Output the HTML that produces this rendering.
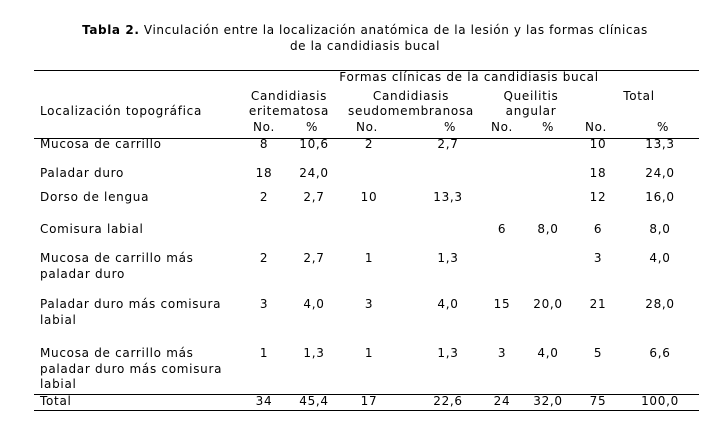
<!DOCTYPE html>
<html><head><meta charset="utf-8"><style>
html,body{margin:0;padding:0;background:#fff;}
body{width:719px;height:435px;position:relative;overflow:hidden;font-family:"DejaVu Sans","Liberation Sans",sans-serif;font-size:12px;letter-spacing:0.7px;color:#000;}
.t{position:absolute;white-space:nowrap;line-height:14px;}
.c{transform:translateX(-50%);}
.l{position:absolute;left:34px;width:665px;height:1px;background:#000;}
</style></head><body>
<div class="t c" style="left:365px;top:23px;letter-spacing:0.6px"><b>Tabla 2.</b> Vinculación entre la localización anatómica de la lesión y las formas clínicas</div>
<div class="t c" style="left:365px;top:39px;letter-spacing:0.6px">de la candidiasis bucal</div>
<div class="l" style="top:70px"></div>
<div class="l" style="top:138px"></div>
<div class="l" style="top:394px"></div>
<div class="l" style="top:410px"></div>

<div class="t c" style="left:469px;top:70px;">Formas clínicas de la candidiasis bucal</div>
<div class="t c" style="left:289px;top:89px;">Candidiasis</div>
<div class="t c" style="left:289px;top:104px;">eritematosa</div>
<div class="t c" style="left:411px;top:89px;">Candidiasis</div>
<div class="t c" style="left:411px;top:104px;">seudomembranosa</div>
<div class="t c" style="left:531px;top:89px;">Queilitis</div>
<div class="t c" style="left:531px;top:104px;">angular</div>
<div class="t c" style="left:639px;top:89px;">Total</div>
<div class="t" style="left:40px;top:104px;">Localización topográfica</div>
<div class="t c" style="left:264px;top:120px;">No.</div>
<div class="t c" style="left:312px;top:120px;">%</div>
<div class="t c" style="left:367px;top:120px;">No.</div>
<div class="t c" style="left:450px;top:120px;">%</div>
<div class="t c" style="left:502px;top:120px;">No.</div>
<div class="t c" style="left:548px;top:120px;">%</div>
<div class="t c" style="left:596px;top:120px;">No.</div>
<div class="t c" style="left:663px;top:120px;">%</div>

<div class="t" style="left:40px;top:137px;">Mucosa de carrillo</div>
<div class="t c" style="left:264px;top:137px;">8</div><div class="t c" style="left:314px;top:137px;">10,6</div>
<div class="t c" style="left:369px;top:137px;">2</div><div class="t c" style="left:448px;top:137px;">2,7</div>
<div class="t c" style="left:598px;top:137px;">10</div><div class="t c" style="left:660px;top:137px;">13,3</div>

<div class="t" style="left:40px;top:166px;">Paladar duro</div>
<div class="t c" style="left:264px;top:166px;">18</div><div class="t c" style="left:314px;top:166px;">24,0</div>
<div class="t c" style="left:598px;top:166px;">18</div><div class="t c" style="left:660px;top:166px;">24,0</div>

<div class="t" style="left:40px;top:190px;">Dorso de lengua</div>
<div class="t c" style="left:264px;top:190px;">2</div><div class="t c" style="left:314px;top:190px;">2,7</div>
<div class="t c" style="left:369px;top:190px;">10</div><div class="t c" style="left:448px;top:190px;">13,3</div>
<div class="t c" style="left:598px;top:190px;">12</div><div class="t c" style="left:660px;top:190px;">16,0</div>

<div class="t" style="left:40px;top:222px;">Comisura labial</div>
<div class="t c" style="left:502px;top:222px;">6</div><div class="t c" style="left:548px;top:222px;">8,0</div>
<div class="t c" style="left:598px;top:222px;">6</div><div class="t c" style="left:660px;top:222px;">8,0</div>

<div class="t" style="left:40px;top:251px;line-height:15.5px;">Mucosa de carrillo más<br>paladar duro</div>
<div class="t c" style="left:264px;top:251px;">2</div><div class="t c" style="left:314px;top:251px;">2,7</div>
<div class="t c" style="left:369px;top:251px;">1</div><div class="t c" style="left:448px;top:251px;">1,3</div>
<div class="t c" style="left:598px;top:251px;">3</div><div class="t c" style="left:660px;top:251px;">4,0</div>

<div class="t" style="left:40px;top:297px;line-height:15.5px;">Paladar duro más comisura<br>labial</div>
<div class="t c" style="left:264px;top:297px;">3</div><div class="t c" style="left:314px;top:297px;">4,0</div>
<div class="t c" style="left:369px;top:297px;">3</div><div class="t c" style="left:448px;top:297px;">4,0</div>
<div class="t c" style="left:502px;top:297px;">15</div><div class="t c" style="left:548px;top:297px;">20,0</div>
<div class="t c" style="left:598px;top:297px;">21</div><div class="t c" style="left:660px;top:297px;">28,0</div>

<div class="t" style="left:40px;top:346px;line-height:15.5px;">Mucosa de carrillo más<br>paladar duro más comisura<br>labial</div>
<div class="t c" style="left:264px;top:346px;">1</div><div class="t c" style="left:314px;top:346px;">1,3</div>
<div class="t c" style="left:369px;top:346px;">1</div><div class="t c" style="left:448px;top:346px;">1,3</div>
<div class="t c" style="left:502px;top:346px;">3</div><div class="t c" style="left:548px;top:346px;">4,0</div>
<div class="t c" style="left:598px;top:346px;">5</div><div class="t c" style="left:660px;top:346px;">6,6</div>

<div class="t" style="left:40px;top:394px;">Total</div>
<div class="t c" style="left:264px;top:394px;">34</div><div class="t c" style="left:314px;top:394px;">45,4</div>
<div class="t c" style="left:369px;top:394px;">17</div><div class="t c" style="left:448px;top:394px;">22,6</div>
<div class="t c" style="left:502px;top:394px;">24</div><div class="t c" style="left:548px;top:394px;">32,0</div>
<div class="t c" style="left:598px;top:394px;">75</div><div class="t c" style="left:660px;top:394px;">100,0</div>
</body></html>
